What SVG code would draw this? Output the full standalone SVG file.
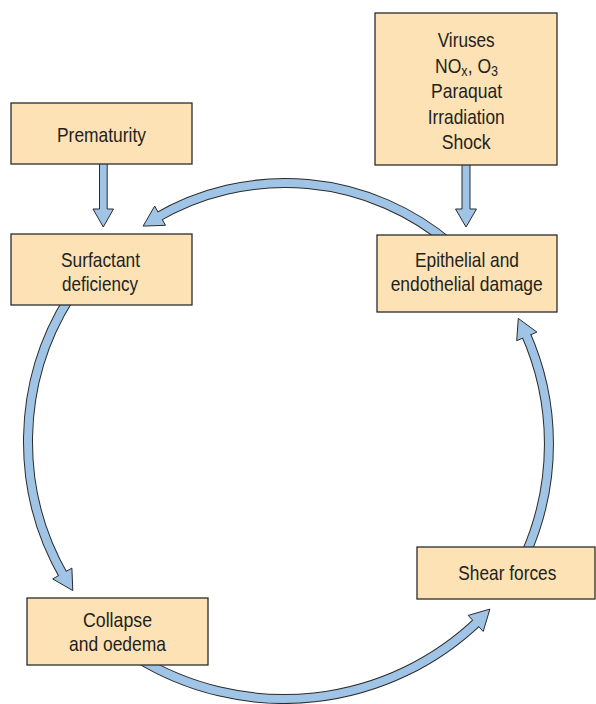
<svg xmlns="http://www.w3.org/2000/svg" width="596" height="704" viewBox="0 0 596 704">
<style>
.box{fill:#fde2b5;stroke:#2b2b2b;stroke-width:1.3}
.t{font-family:"Liberation Sans",Arial,sans-serif;font-size:21px;fill:#231f20}
.ol{fill:none;stroke:#2b2b2b;stroke-width:10}
.core{fill:none;stroke:#a0c4e6;stroke-width:8}
.head{fill:#a0c4e6;stroke:#2b2b2b;stroke-width:1;stroke-linejoin:miter}
</style>
<rect width="596" height="704" fill="#ffffff"/>
<g id="connectors">
  <g id="arrow-epithelial-surfactant">
    <path class="ol" d="M 451.6 245 A 255 255 0 0 0 155.6 218.3"/>
    <polygon class="head" points="154.7,206.1 143.1,226.1 165.5,225.3"/>
    <path class="core" d="M 451.6 245 A 255 255 0 0 0 155.6 218.3"/>
  </g>
  <g id="arrow-surfactant-collapse">
    <path class="ol" d="M 69.9 297 A 270.6 270.6 0 0 0 64.8 577.9"/>
    <polygon class="head" points="52.7,578.9 72.8,590.6 71.9,568.1"/>
    <path class="core" d="M 69.9 297 A 270.6 270.6 0 0 0 64.8 577.9"/>
  </g>
  <g id="arrow-collapse-shear">
    <path class="ol" d="M 136.3 657 A 280.8 280.8 0 0 0 479.5 619.8"/>
    <polygon class="head" points="483.2,631.4 489.9,609.1 468.2,615.4"/>
    <path class="core" d="M 136.3 657 A 280.8 280.8 0 0 0 479.5 619.8"/>
  </g>
  <g id="arrow-shear-epithelial">
    <path class="ol" d="M 525.2 555 A 271.8 271.8 0 0 0 524.8 331.9"/>
    <polygon class="head" points="536.9,332.1 518.3,318.4 516.7,340.7"/>
    <path class="core" d="M 525.2 555 A 271.8 271.8 0 0 0 524.8 331.9"/>
  </g>
  <path id="arrow-prematurity-surfactant" class="head" d="M 99.5 158 V 209 H 93 L 103.3 227 L 113.5 209 H 107.2 V 158 Z"/>
  <path id="arrow-viruses-epithelial" class="head" d="M 462 158 V 209 H 455.5 L 466 227 L 476.5 209 H 470 V 158 Z"/>
</g>
<g id="node-causes">
  <rect class="box" x="375" y="13" width="182" height="152"/>
  <text class="t" x="437.7" y="47" textLength="57" lengthAdjust="spacingAndGlyphs">Viruses</text>
  <text class="t" transform="translate(435,72.5) scale(0.837,1)">NO<tspan dy="3.5" font-size="15">x</tspan><tspan dy="-3.5">, O</tspan><tspan dy="3.5" font-size="15">3</tspan></text>
  <text class="t" x="431" y="98" textLength="71" lengthAdjust="spacingAndGlyphs">Paraquat</text>
  <text class="t" x="427.7" y="123.5" textLength="77" lengthAdjust="spacingAndGlyphs">Irradiation</text>
  <text class="t" x="441.7" y="149" textLength="49" lengthAdjust="spacingAndGlyphs">Shock</text>
</g>
<g id="node-prematurity">
  <rect class="box" x="11" y="103" width="181" height="61"/>
  <text class="t" x="57" y="142" textLength="89" lengthAdjust="spacingAndGlyphs">Prematurity</text>
</g>
<g id="node-surfactant">
  <rect class="box" x="11" y="234" width="181" height="71"/>
  <text class="t" x="61" y="266.5" textLength="79" lengthAdjust="spacingAndGlyphs">Surfactant</text>
  <text class="t" x="62" y="291" textLength="76" lengthAdjust="spacingAndGlyphs">deficiency</text>
</g>
<g id="node-epithelial">
  <rect class="box" x="377" y="235" width="180" height="77"/>
  <text class="t" x="415" y="267" textLength="104" lengthAdjust="spacingAndGlyphs">Epithelial and</text>
  <text class="t" x="390.7" y="291" textLength="152" lengthAdjust="spacingAndGlyphs">endothelial damage</text>
</g>
<g id="node-collapse">
  <rect class="box" x="27" y="598" width="181" height="67"/>
  <text class="t" x="83" y="627" textLength="69" lengthAdjust="spacingAndGlyphs">Collapse</text>
  <text class="t" x="69" y="651" textLength="97" lengthAdjust="spacingAndGlyphs">and oedema</text>
</g>
<g id="node-shear">
  <rect class="box" x="417" y="547" width="178" height="52"/>
  <text class="t" x="458.3" y="580" textLength="98" lengthAdjust="spacingAndGlyphs">Shear forces</text>
</g>
</svg>
